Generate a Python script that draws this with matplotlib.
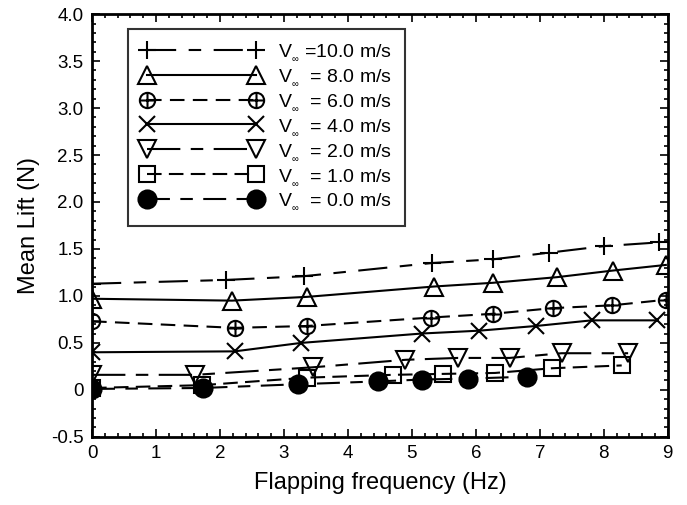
import matplotlib
matplotlib.use("Agg")
import matplotlib.pyplot as plt
from matplotlib.path import Path
from matplotlib.ticker import MultipleLocator, FixedLocator, FixedFormatter

plt.rcParams['font.family'] = ['Liberation Sans', 'DejaVu Sans']
plt.rcParams['mathtext.fontset'] = 'custom'
plt.rcParams['mathtext.rm'] = 'Liberation Sans'

# mean lift vs flapping frequency, one series per free-stream speed
f_10 = [0.0, 2.09, 3.31, 5.31, 6.27, 7.14, 8.00, 8.86]
l_10 = [1.13, 1.17, 1.21, 1.35, 1.39, 1.46, 1.53, 1.57]
f_8 = [0.0, 2.19, 3.36, 5.34, 6.27, 7.27, 8.14, 8.97]
l_8 = [0.97, 0.95, 0.99, 1.10, 1.14, 1.20, 1.27, 1.33]
f_6 = [0.0, 2.23, 3.36, 5.30, 6.27, 7.20, 8.13, 8.98]
l_6 = [0.73, 0.66, 0.68, 0.77, 0.81, 0.87, 0.90, 0.96]
f_4 = [0.0, 2.23, 3.27, 5.16, 6.05, 6.94, 7.81, 8.83]
l_4 = [0.40, 0.41, 0.50, 0.60, 0.63, 0.68, 0.74, 0.74]
f_2 = [0.0, 1.61, 3.45, 4.90, 5.72, 6.53, 7.34, 8.38]
l_2 = [0.16, 0.16, 0.24, 0.32, 0.34, 0.34, 0.39, 0.39]
f_1 = [0.0, 1.72, 3.36, 4.70, 5.49, 6.30, 7.19, 8.28]
l_1 = [0.02, 0.05, 0.13, 0.16, 0.17, 0.18, 0.23, 0.26]
f_0 = [0.0, 1.73, 3.22, 4.47, 5.16, 5.88, 6.80]
l_0 = [0.01, 0.02, 0.06, 0.09, 0.11, 0.12, 0.14]

speeds = ["=10.0 m/s", " = 8.0 m/s", " = 6.0 m/s", " = 4.0 m/s",
          " = 2.0 m/s", " = 1.0 m/s", " = 0.0 m/s"]
labels = [r"V$_{{}_{\infty}}$ " + s for s in speeds]

# circle with a cross inside
oplus = Path.make_compound_path(
    Path.unit_circle(),
    Path([[-1, 0], [1, 0]], [Path.MOVETO, Path.LINETO]),
    Path([[0, -1], [0, 1]], [Path.MOVETO, Path.LINETO]),
)

styles = [
    dict(marker='+', ms=13, ls=(0, (14, 6, 6, 6))),
    dict(marker='^', ms=13, ls='-'),
    dict(marker=oplus, ms=11, ls=(0, (7, 4))),
    dict(marker='x', ms=12, ls='-'),
    dict(marker='v', ms=13, ls=(0, (16, 5, 6, 5))),
    dict(marker='s', ms=11, ls=(0, (7, 3.5))),
    dict(marker='o', ms=13, ls=(0, (11, 5, 6, 5))),
]
data = [(f_10, l_10), (f_8, l_8), (f_6, l_6), (f_4, l_4), (f_2, l_2), (f_1, l_1), (f_0, l_0)]

fig = plt.figure(figsize=(6.87, 5.05), dpi=100)
ax = fig.add_axes([0.134, 0.135, 0.838, 0.837])

for (x, y), st, lab in zip(data, styles, labels):
    face = 'k' if st['marker'] == 'o' else 'none'
    ax.plot(x, y, color='k', lw=1.5, linestyle=st['ls'], marker=st['marker'],
            ms=st['ms'], mew=1.5, mfc=face, mec='k', label=lab)

ax.set_xlim(0, 9)
ax.set_ylim(-0.5, 4.0)
ax.xaxis.set_major_locator(MultipleLocator(1))
ax.xaxis.set_minor_locator(MultipleLocator(0.2))
yt = [-0.5, 0, 0.5, 1.0, 1.5, 2.0, 2.5, 3.0, 3.5, 4.0]
ax.yaxis.set_major_locator(FixedLocator(yt))
ax.yaxis.set_major_formatter(FixedFormatter(["-0.5", "0", "0.5", "1.0", "1.5", "2.0",
                                             "2.5", "3.0", "3.5", "4.0"]))
ax.yaxis.set_minor_locator(MultipleLocator(0.1))
ax.tick_params(which='both', direction='in', top=True, right=True, width=1.2)
ax.tick_params(which='major', length=6, labelsize=13.5, pad=6)
ax.tick_params(which='minor', length=3)
for s in ax.spines.values():
    s.set_linewidth(2)

ax.set_xlabel("Flapping frequency (Hz)", fontsize=17, labelpad=7)
ax.set_ylabel("Mean Lift (N)", fontsize=17, labelpad=8)

leg = ax.legend(loc='upper left', bbox_to_anchor=(0.0625, 0.965), borderaxespad=0,
                fontsize=14, numpoints=2, handlelength=6.2, handletextpad=0.8,
                labelspacing=0.22, frameon=True, fancybox=False, borderpad=0.7)
leg.get_frame().set_edgecolor('k')
leg.get_frame().set_linewidth(1.5)

fig.savefig("out.png", dpi=100)
